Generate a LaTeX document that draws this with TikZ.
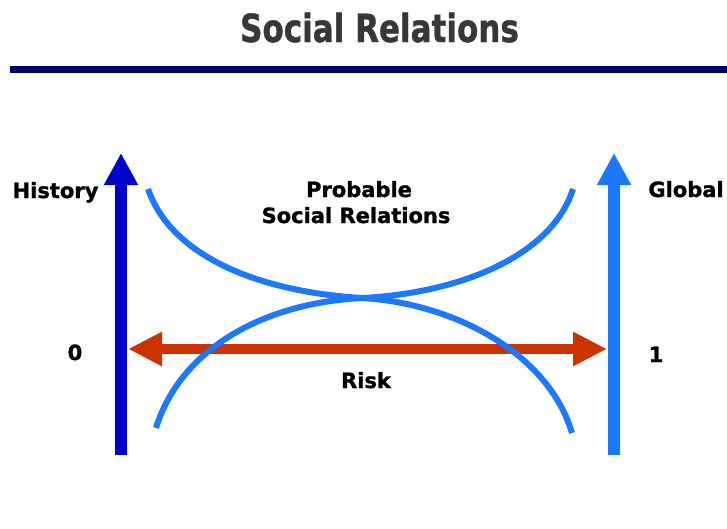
\documentclass[tikz,border=0pt]{standalone}
\usepackage{fontspec}
\setmainfont{DejaVu Sans}[BoldFeatures={FakeBold=1.2}]
\usepackage{tikz}
\usetikzlibrary{arrows.meta, positioning, calc}
\definecolor{titlegray}{RGB}{55,55,55}
\definecolor{navyline}{RGB}{0,0,102}
\definecolor{darkblue}{RGB}{0,0,204}
\definecolor{skyblue}{RGB}{28,120,255}
\definecolor{riskred}{RGB}{204,51,0}
\tikzset{>=stealth,
  axisarrow/.style={line width=12pt, -{Triangle[width=32pt,length=32pt]}},
  riskarrow/.style={line width=10pt, color=riskred, {Triangle[width=32pt,length=34pt]}-{Triangle[width=32pt,length=34pt]}},
  relcurve/.style={line width=6pt, color=skyblue},
  lbl/.style={font=\fontsize{21}{25}\selectfont\bfseries, anchor=base, inner sep=0pt}}

\begin{document}
\begin{tikzpicture}[x=1pt, y=-1pt]
        \useasboundingbox[fill=white] (0,0) rectangle (727,528);
        % title and rule
        \node[font=\fontsize{31}{36}\selectfont\bfseries, text=titlegray, anchor=base, inner sep=0pt] (title) at (379.5,42) {\scalebox{1}[1.25]{Social Relations}};
        \coordinate (ruleL) at (10,69);
        \coordinate (ruleR) at (727,69);
        \draw[navyline, line width=7pt] (ruleL) -- (ruleR);
        % axes
        \coordinate (histBot) at (121,455);
        \coordinate (histTop) at (121,153);
        \coordinate (globBot) at (614,455);
        \coordinate (globTop) at (614,153);
        \draw[axisarrow, darkblue] (histBot) -- (histTop);
        \draw[axisarrow, skyblue] (globBot) -- (globTop);
        % risk
        \coordinate (riskL) at (128,349);
        \coordinate (riskR) at (607,349);
        \draw[riskarrow] (riskL) -- (riskR);
        % relation curves
        \coordinate (cross) at (362,298);
        \draw[relcurve] (148,189) .. controls (172,258) and (262,292) .. (cross)
          .. controls (452,303) and (548,352) .. (572,433);
        \draw[relcurve] (156,428) .. controls (180,350) and (262,303) .. (cross)
          .. controls (462,293) and (552,255) .. (573,189);
        % labels
        \node[lbl] (history) at (55.5,198) {History};
        \node[lbl] (global) at (686,197) {Global};
        \node[lbl] (probable) at (359,197) {Probable};
        \node[lbl] (social) at (356,223) {Social Relations};
        \node[lbl] (zero) at (75,360) {0};
        \node[lbl] (one) at (656,362) {1};
        \node[lbl] (risk) at (366,388) {Risk};
      \end{tikzpicture}
\end{document}
